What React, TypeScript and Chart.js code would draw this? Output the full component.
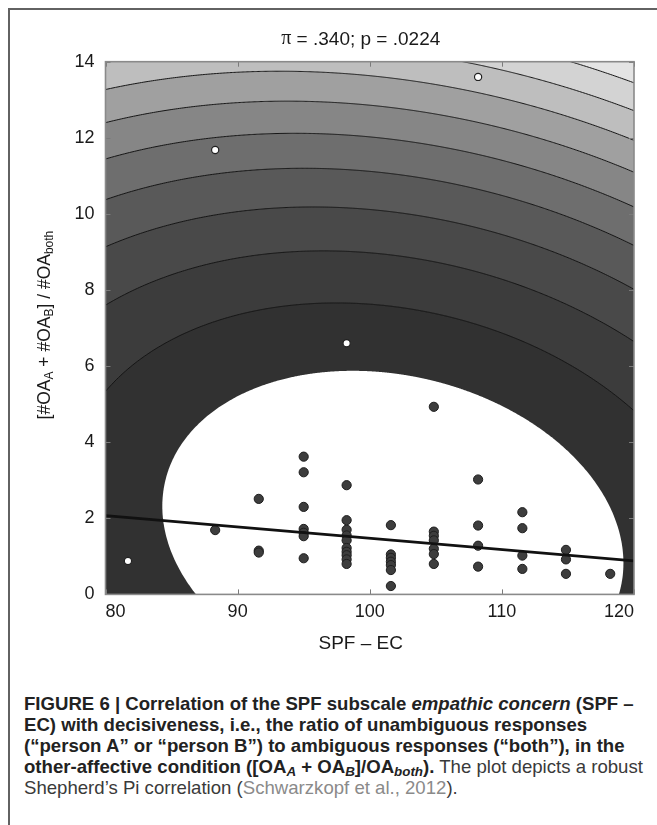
import React, { useEffect, useRef } from "react";
import { Chart, registerables } from "chart.js";

Chart.register(...registerables);

// ---------- text ----------
const TITLE_SYMBOL = "π";
const TITLE_REST = " = .340; p = .0224";
const X_TITLE = "SPF – EC";
const Y_TITLE_PARTS = [
  { t: "[#OA", sub: false },
  { t: "A", sub: true },
  { t: " + #OA", sub: false },
  { t: "B", sub: true },
  { t: "] / #OA", sub: false },
  { t: "both", sub: true },
];

// ---------- axes ----------
const X_MIN = 80;
const X_MAX = 120;
const X_STEP = 10;
const Y_MIN = 0;
const Y_MAX = 14;
const Y_STEP = 2;

// ---------- data: inliers grouped by SPF-EC score ----------
const COLUMN_X = [88.3, 91.6, 95.0, 98.25, 101.6, 104.85, 108.2, 111.55, 114.85, 118.2];
const COLUMN_Y = [
  [1.69],
  [2.51, 1.15, 1.1],
  [3.62, 3.21, 2.3, 1.72, 1.62, 1.53, 0.95],
  [2.87, 1.95, 1.7, 1.55, 1.42, 1.22, 1.12, 1.03, 0.92, 0.8],
  [1.82, 1.05, 0.96, 0.86, 0.77, 0.64, 0.22],
  [4.93, 1.65, 1.54, 1.42, 1.2, 1.06, 0.8],
  [3.02, 1.81, 1.28, 0.73],
  [2.16, 1.74, 1.02, 0.67],
  [1.17, 0.92, 0.54],
  [0.54],
];

// ---------- data: outliers (white) ----------
const OUTLIER_X = [81.7, 88.3, 98.25, 108.2];
const OUTLIER_Y = [0.88, 11.68, 6.6, 13.6];

// ---------- robust regression line ----------
const FIT_X = [80, 120];
const FIT_Y = [2.07, 0.88];

// ---------- Mahalanobis-distance background (estimated) ----------
const MD_CENTER_X = 101.75;
const MD_CENTER_Y = 1.57;
const MD_A = 0.003386;
const MD_B = 0.00238;
const MD_C = 0.0556;
const MD_LEVELS = [1, 2, 3, 4, 5, 6, 7, 8, 9, 10, 11];
const BAND_GRAYS = [49, 60, 73, 89, 110, 134, 160, 190, 211, 228, 240];

const FONT = "'Liberation Sans', Arial, Helvetica, sans-serif";
const CANVAS_W = 657;
const CANVAS_H = 665;

const decorPlugin = {
  id: "decor",
  beforeDatasetsDraw(chart: any) {
    const { ctx, chartArea: ca, scales } = chart;
    const xs = scales.x;
    const ys = scales.y;
    ctx.save();
    ctx.beginPath();
    ctx.rect(ca.left, ca.top, ca.right - ca.left, ca.bottom - ca.top);
    ctx.clip();
    const gray = (v: number) => `rgb(${v},${v},${v})`;
    const path = (L: number) => {
      ctx.beginPath();
      const N = 1440;
      for (let i = 0; i <= N; i++) {
        const th = (i / N) * Math.PI * 2;
        const c = Math.cos(th);
        const s = Math.sin(th);
        const q = MD_A * c * c + 2 * MD_B * c * s + MD_C * s * s;
        const r = Math.sqrt(L / q);
        const px = xs.getPixelForValue(MD_CENTER_X + r * c);
        const py = ys.getPixelForValue(MD_CENTER_Y + r * s);
        if (i === 0) ctx.moveTo(px, py);
        else ctx.lineTo(px, py);
      }
      ctx.closePath();
    };
    ctx.fillStyle = gray(BAND_GRAYS[MD_LEVELS.length - 1]);
    ctx.fillRect(ca.left, ca.top, ca.right - ca.left, ca.bottom - ca.top);
    for (let i = MD_LEVELS.length - 1; i >= 0; i--) {
      path(MD_LEVELS[i]);
      ctx.fillStyle = i === 0 ? "#ffffff" : gray(BAND_GRAYS[i - 1]);
      ctx.fill();
    }
    ctx.strokeStyle = "#161616";
    ctx.lineWidth = 1;
    for (let i = 1; i < MD_LEVELS.length; i++) {
      path(MD_LEVELS[i]);
      ctx.stroke();
    }
    ctx.restore();
  },
  afterDatasetsDraw(chart: any) {
    const { ctx, chartArea: ca, scales } = chart;
    const xs = scales.x;
    const ys = scales.y;
    ctx.save();
    // inward tick marks
    ctx.strokeStyle = "#7a7a7a";
    ctx.lineWidth = 1;
    const TL = 5;
    xs.ticks.forEach((t: any) => {
      const px = Math.round(xs.getPixelForValue(t.value)) + 0.5;
      ctx.beginPath();
      ctx.moveTo(px, ca.bottom);
      ctx.lineTo(px, ca.bottom - TL);
      ctx.moveTo(px, ca.top);
      ctx.lineTo(px, ca.top + TL);
      ctx.stroke();
    });
    ys.ticks.forEach((t: any) => {
      const py = Math.round(ys.getPixelForValue(t.value)) + 0.5;
      ctx.beginPath();
      ctx.moveTo(ca.left, py);
      ctx.lineTo(ca.left + TL, py);
      ctx.moveTo(ca.right, py);
      ctx.lineTo(ca.right - TL, py);
      ctx.stroke();
    });
    // axis box
    ctx.strokeStyle = "#8a8a8a";
    ctx.lineWidth = 1.6;
    ctx.strokeRect(ca.left, ca.top, ca.right - ca.left, ca.bottom - ca.top);
    ctx.restore();
  },
  afterDraw(chart: any) {
    const { ctx, chartArea: ca } = chart;
    ctx.save();
    ctx.fillStyle = "#1a1a1a";
    ctx.textBaseline = "middle";
    // title
    const cx = (ca.left + ca.right) / 2 - 9;
    const symF = `20px 'Liberation Serif', 'Times New Roman', serif`;
    const txtF = `19px ${FONT}`;
    ctx.font = symF;
    const w1 = ctx.measureText(TITLE_SYMBOL).width;
    ctx.font = txtF;
    const w2 = ctx.measureText(TITLE_REST).width;
    const x0 = cx - (w1 + w2) / 2;
    ctx.textAlign = "left";
    ctx.font = symF;
    ctx.fillText(TITLE_SYMBOL, x0, 38.5);
    ctx.font = txtF;
    ctx.fillText(TITLE_REST, x0 + w1, 39.5);
    // x title
    ctx.textAlign = "center";
    ctx.fillText(X_TITLE, cx, 644);
    // y title with subscripts
    const mainF = `17.5px ${FONT}`;
    const subF = `12px ${FONT}`;
    let total = 0;
    Y_TITLE_PARTS.forEach((p) => {
      ctx.font = p.sub ? subF : mainF;
      total += ctx.measureText(p.t).width;
    });
    ctx.translate(45, (ca.top + ca.bottom) / 2 - 3);
    ctx.rotate(-Math.PI / 2);
    ctx.textAlign = "left";
    let xx = -total / 2;
    Y_TITLE_PARTS.forEach((p) => {
      ctx.font = p.sub ? subF : mainF;
      ctx.fillText(p.t, xx, p.sub ? 5 : 0);
      xx += ctx.measureText(p.t).width;
    });
    ctx.restore();
  },
};

function ChartCanvas() {
  const ref = useRef<HTMLCanvasElement | null>(null);
  useEffect(() => {
    if (!ref.current) return;
    const inliers: { x: number; y: number }[] = [];
    COLUMN_X.forEach((x, i) => COLUMN_Y[i].forEach((y) => inliers.push({ x, y })));
    const outliers = OUTLIER_X.map((x, i) => ({ x, y: OUTLIER_Y[i] }));
    const fit = FIT_X.map((x, i) => ({ x, y: FIT_Y[i] }));
    const chart = new Chart(ref.current, {
      type: "scatter",
      data: {
        datasets: [
          {
            type: "line",
            data: fit,
            borderColor: "#111111",
            borderWidth: 2.6,
            pointRadius: 0,
            fill: false,
          },
          {
            data: inliers,
            pointRadius: 4.6,
            pointBackgroundColor: "#3d3d3d",
            pointBorderColor: "#1e1e1e",
            pointBorderWidth: 1,
          },
          {
            data: outliers,
            pointRadius: 3.6,
            pointBackgroundColor: "#ffffff",
            pointBorderColor: "#222222",
            pointBorderWidth: 1.2,
          },
        ],
      } as any,
      options: {
        animation: false,
        responsive: false,
        events: [],
        layout: { padding: { top: 61.7, right: 23, bottom: 0, left: 0 } },
        plugins: { legend: { display: false }, tooltip: { enabled: false }, title: { display: false } },
        scales: {
          x: {
            type: "linear",
            min: X_MIN,
            max: X_MAX,
            grid: { display: false, drawTicks: false },
            border: { display: false },
            ticks: {
              stepSize: X_STEP,
              align: "inner",
              padding: 7,
              color: "#1a1a1a",
              font: { family: FONT, size: 18 },
            },
            afterFit: (s: any) => {
              s.height = CANVAS_H - 594.4;
            },
          },
          y: {
            type: "linear",
            min: Y_MIN,
            max: Y_MAX,
            grid: { display: false, drawTicks: false },
            border: { display: false },
            ticks: {
              stepSize: Y_STEP,
              padding: 11,
              color: "#1a1a1a",
              font: { family: FONT, size: 18 },
            },
            afterFit: (s: any) => {
              s.width = 105.5;
            },
          },
        },
      } as any,
      plugins: [decorPlugin as any],
    });
    return () => chart.destroy();
  }, []);
  return (
    <canvas
      ref={ref}
      width={CANVAS_W}
      height={CANVAS_H}
      style={{ position: "absolute", left: 0, top: 0, width: CANVAS_W, height: CANVAS_H }}
    />
  );
}

const subStyle: React.CSSProperties = { fontSize: "0.72em", lineHeight: 0, verticalAlign: "-0.25em" };

export default function App() {
  return (
    <div style={{ position: "relative", width: 657, height: 825, overflow: "hidden" }}>
      <style>{`html,body{margin:0;padding:0;overflow:hidden;background:#fff}`}</style>
      <div
        style={{
          position: "absolute",
          left: 8,
          top: 8,
          width: 649,
          height: 817,
          borderTop: "2px solid #626262",
          borderLeft: "2px solid #626262",
          boxSizing: "border-box",
        }}
      />
      <ChartCanvas />
      <div
        style={{
          position: "absolute",
          left: 24,
          top: 693,
          fontFamily: FONT,
          fontSize: 18.6,
          lineHeight: "21px",
          color: "#3a3a3a",
          whiteSpace: "nowrap",
        }}
      >
        <div style={{ fontWeight: 700, color: "#222" }}>
          FIGURE 6 | Correlation of the SPF subscale <i>empathic concern</i> (SPF –
        </div>
        <div style={{ fontWeight: 700, color: "#222" }}>
          EC) with decisiveness, i.e., the ratio of unambiguous responses
        </div>
        <div style={{ fontWeight: 700, color: "#222" }}>
          (“person A” or “person B”) to ambiguous responses (“both”), in the
        </div>
        <div>
          <b style={{ color: "#222" }}>
            other-affective condition ([OA<sub style={subStyle}><i>A</i></sub> + OA
            <sub style={subStyle}><i>B</i></sub>]/OA<sub style={subStyle}><i>both</i></sub>).
          </b>{" "}
          The plot depicts a robust
        </div>
        <div>
          Shepherd’s Pi correlation (<span style={{ color: "#8a8a8a" }}>Schwarzkopf et al., 2012</span>).
        </div>
      </div>
    </div>
  );
}
